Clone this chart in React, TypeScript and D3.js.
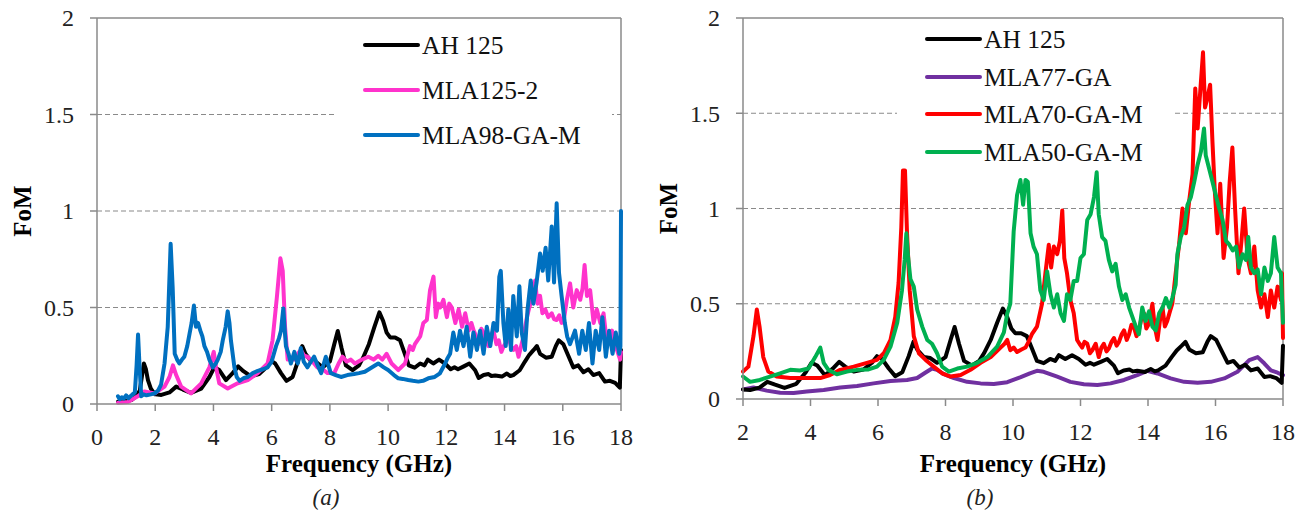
import React from "react";
import * as d3 from "d3";

type P = [number, number];

const ah125: P[] = [[0.72,0.012],[1.0,0.015],[1.18,0.02],[1.35,0.04],[1.47,0.07],[1.55,0.15],[1.61,0.21],[1.68,0.18],[1.75,0.124],[1.85,0.08],[1.92,0.064],[2.0,0.05],[2.21,0.047],[2.49,0.06],[2.72,0.09],[2.95,0.075],[3.23,0.058],[3.58,0.08],[3.86,0.14],[4.03,0.19],[4.2,0.176],[4.43,0.124],[4.66,0.16],[4.85,0.195],[5.03,0.17],[5.28,0.144],[5.57,0.155],[5.82,0.19],[5.97,0.225],[6.12,0.21],[6.32,0.16],[6.51,0.12],[6.72,0.14],[6.91,0.225],[7.05,0.3],[7.16,0.26],[7.36,0.22],[7.55,0.215],[7.75,0.19],[8.0,0.22],[8.15,0.31],[8.27,0.378],[8.4,0.29],[8.55,0.2],[8.78,0.176],[9.0,0.2],[9.14,0.24],[9.34,0.31],[9.53,0.4],[9.7,0.475],[9.83,0.43],[9.95,0.37],[10.07,0.345],[10.24,0.345],[10.41,0.33],[10.55,0.27],[10.71,0.2],[10.91,0.188],[11.1,0.21],[11.25,0.2],[11.36,0.23],[11.55,0.21],[11.75,0.23],[11.95,0.21],[12.15,0.18],[12.28,0.19],[12.4,0.18],[12.6,0.195],[12.79,0.21],[12.99,0.175],[13.11,0.135],[13.28,0.15],[13.45,0.155],[13.55,0.145],[13.68,0.148],[13.91,0.142],[14.08,0.158],[14.2,0.145],[14.3,0.15],[14.52,0.175],[14.7,0.22],[14.85,0.255],[15.0,0.28],[15.11,0.3],[15.22,0.26],[15.42,0.24],[15.62,0.245],[15.76,0.3],[15.86,0.33],[16.02,0.31],[16.19,0.25],[16.36,0.19],[16.53,0.2],[16.71,0.165],[16.88,0.18],[17.05,0.15],[17.25,0.16],[17.45,0.116],[17.62,0.12],[17.8,0.11],[17.96,0.085],[18.0,0.28]];

const mla125_2: P[] = [[0.72,0.007],[1.06,0.01],[1.4,0.04],[1.63,0.065],[1.98,0.055],[2.32,0.09],[2.49,0.14],[2.61,0.2],[2.72,0.15],[2.89,0.09],[3.23,0.055],[3.58,0.107],[3.86,0.19],[4.01,0.27],[4.09,0.19],[4.2,0.107],[4.49,0.08],[4.83,0.107],[5.18,0.124],[5.52,0.16],[5.86,0.21],[6.03,0.33],[6.18,0.555],[6.3,0.755],[6.38,0.69],[6.46,0.4],[6.55,0.23],[6.78,0.23],[6.9,0.26],[7.0,0.28],[7.12,0.25],[7.23,0.245],[7.4,0.22],[7.57,0.19],[7.75,0.18],[7.92,0.16],[8.15,0.16],[8.3,0.21],[8.43,0.245],[8.58,0.22],[8.72,0.23],[8.86,0.21],[9.1,0.23],[9.32,0.245],[9.5,0.23],[9.66,0.25],[9.8,0.23],[9.95,0.26],[10.12,0.21],[10.35,0.176],[10.58,0.21],[10.75,0.3],[10.85,0.28],[10.92,0.31],[11.1,0.35],[11.21,0.42],[11.33,0.435],[11.44,0.59],[11.56,0.66],[11.64,0.45],[11.72,0.52],[11.79,0.5],[11.9,0.54],[12.02,0.45],[12.1,0.52],[12.19,0.5],[12.31,0.42],[12.42,0.49],[12.54,0.4],[12.65,0.47],[12.77,0.38],[12.86,0.42],[12.94,0.38],[13.03,0.35],[13.11,0.31],[13.2,0.39],[13.28,0.37],[13.37,0.32],[13.45,0.3],[13.54,0.36],[13.62,0.38],[13.72,0.31],[13.8,0.33],[13.89,0.27],[13.97,0.3],[14.06,0.32],[14.14,0.35],[14.22,0.3],[14.31,0.28],[14.4,0.3],[14.48,0.245],[14.57,0.3],[14.65,0.35],[14.77,0.45],[14.85,0.5],[14.94,0.54],[15.05,0.64],[15.13,0.52],[15.22,0.56],[15.3,0.47],[15.4,0.49],[15.5,0.45],[15.62,0.47],[15.7,0.44],[15.79,0.435],[15.88,0.46],[15.96,0.42],[16.05,0.45],[16.14,0.54],[16.25,0.625],[16.36,0.5],[16.48,0.59],[16.6,0.54],[16.68,0.6],[16.75,0.72],[16.83,0.56],[16.94,0.59],[17.06,0.42],[17.17,0.49],[17.29,0.42],[17.4,0.47],[17.52,0.31],[17.6,0.36],[17.69,0.38],[17.78,0.3],[17.86,0.28],[17.97,0.23],[18.0,0.27]];

const mla98: P[] = [[0.72,0.04],[0.78,0.025],[0.85,0.035],[0.92,0.028],[1.0,0.045],[1.08,0.03],[1.15,0.04],[1.22,0.05],[1.3,0.06],[1.36,0.2],[1.41,0.36],[1.46,0.2],[1.52,0.04],[1.6,0.05],[1.7,0.045],[1.85,0.05],[1.98,0.055],[2.1,0.07],[2.2,0.1],[2.32,0.21],[2.43,0.4],[2.53,0.83],[2.6,0.6],[2.67,0.26],[2.75,0.23],[2.83,0.21],[2.92,0.23],[3.0,0.245],[3.1,0.3],[3.18,0.365],[3.25,0.42],[3.33,0.51],[3.4,0.4],[3.47,0.42],[3.55,0.38],[3.62,0.35],[3.69,0.3],[3.78,0.27],[3.86,0.23],[3.98,0.19],[4.08,0.21],[4.15,0.23],[4.25,0.27],[4.32,0.33],[4.42,0.4],[4.49,0.48],[4.55,0.42],[4.6,0.33],[4.72,0.19],[4.8,0.14],[4.9,0.12],[5.05,0.135],[5.18,0.14],[5.35,0.16],[5.5,0.17],[5.7,0.18],[5.86,0.19],[6.0,0.22],[6.15,0.3],[6.25,0.34],[6.32,0.38],[6.4,0.495],[6.45,0.38],[6.49,0.3],[6.58,0.26],[6.66,0.21],[6.78,0.27],[6.84,0.23],[6.9,0.21],[7.0,0.29],[7.1,0.22],[7.23,0.19],[7.35,0.22],[7.46,0.245],[7.58,0.2],[7.7,0.16],[7.86,0.245],[7.95,0.2],[8.03,0.16],[8.2,0.15],[8.38,0.14],[8.6,0.15],[8.83,0.155],[9.0,0.16],[9.2,0.167],[9.45,0.19],[9.66,0.21],[9.85,0.19],[10.0,0.176],[10.2,0.15],[10.35,0.133],[10.5,0.13],[10.69,0.124],[10.85,0.12],[11.04,0.116],[11.2,0.12],[11.38,0.133],[11.6,0.14],[11.78,0.159],[11.96,0.21],[12.05,0.24],[12.13,0.26],[12.24,0.37],[12.36,0.28],[12.47,0.38],[12.59,0.3],[12.7,0.4],[12.82,0.245],[12.93,0.37],[13.05,0.28],[13.16,0.38],[13.28,0.26],[13.39,0.4],[13.51,0.3],[13.62,0.42],[13.74,0.38],[13.82,0.66],[13.87,0.69],[13.96,0.42],[14.04,0.3],[14.13,0.49],[14.22,0.28],[14.3,0.56],[14.42,0.35],[14.51,0.61],[14.59,0.37],[14.7,0.28],[14.79,0.49],[14.9,0.64],[14.99,0.52],[15.1,0.63],[15.22,0.78],[15.31,0.69],[15.41,0.81],[15.5,0.64],[15.62,0.92],[15.7,0.63],[15.79,1.04],[15.87,0.68],[15.96,0.56],[16.07,0.42],[16.15,0.35],[16.25,0.31],[16.42,0.38],[16.56,0.26],[16.67,0.38],[16.79,0.28],[16.9,0.42],[17.02,0.21],[17.13,0.38],[17.25,0.28],[17.36,0.45],[17.48,0.245],[17.59,0.38],[17.71,0.26],[17.82,0.37],[17.94,0.26],[17.98,0.3],[18.0,1.0]];

const mla77: P[] = [[2.0,0.05],[2.31,0.06],[2.7,0.044],[3.1,0.033],[3.5,0.032],[3.89,0.039],[4.39,0.047],[4.88,0.06],[5.38,0.068],[5.87,0.082],[6.37,0.095],[6.86,0.1],[7.16,0.11],[7.41,0.139],[7.6,0.16],[7.75,0.153],[7.95,0.13],[8.25,0.11],[8.64,0.09],[9.04,0.082],[9.43,0.079],[9.83,0.088],[10.23,0.115],[10.5,0.135],[10.71,0.148],[10.91,0.143],[11.31,0.117],[11.7,0.09],[12.1,0.077],[12.5,0.073],[12.89,0.082],[13.29,0.1],[13.68,0.125],[13.98,0.148],[14.28,0.134],[14.67,0.108],[15.07,0.09],[15.47,0.085],[15.86,0.09],[16.26,0.108],[16.65,0.143],[16.85,0.178],[17.0,0.204],[17.25,0.22],[17.45,0.186],[17.64,0.15],[17.84,0.138],[18.0,0.125]];

const mla70: P[] = [[2.0,0.144],[2.16,0.17],[2.31,0.33],[2.41,0.47],[2.49,0.38],[2.6,0.22],[2.75,0.144],[3.0,0.118],[3.4,0.11],[3.89,0.11],[4.29,0.11],[4.58,0.126],[4.88,0.153],[5.28,0.17],[5.67,0.19],[5.97,0.205],[6.17,0.24],[6.37,0.31],[6.51,0.43],[6.61,0.61],[6.69,0.9],[6.74,1.2],[6.8,1.2],[6.86,0.87],[6.94,0.57],[7.06,0.33],[7.21,0.24],[7.41,0.205],[7.65,0.17],[7.9,0.135],[8.15,0.118],[8.45,0.126],[8.74,0.153],[9.04,0.19],[9.34,0.22],[9.63,0.27],[9.75,0.29],[9.83,0.31],[9.92,0.256],[10.02,0.27],[10.12,0.247],[10.25,0.26],[10.37,0.27],[10.46,0.3],[10.56,0.34],[10.71,0.38],[10.86,0.5],[10.96,0.66],[11.06,0.81],[11.13,0.69],[11.21,0.8],[11.31,0.76],[11.39,0.83],[11.46,0.99],[11.52,0.74],[11.6,0.66],[11.7,0.52],[11.8,0.45],[11.9,0.31],[11.97,0.29],[12.05,0.27],[12.12,0.3],[12.2,0.29],[12.28,0.24],[12.35,0.256],[12.45,0.29],[12.54,0.22],[12.62,0.27],[12.69,0.29],[12.77,0.25],[12.84,0.265],[12.92,0.3],[12.99,0.32],[13.07,0.28],[13.14,0.3],[13.22,0.34],[13.29,0.36],[13.37,0.31],[13.44,0.34],[13.51,0.39],[13.58,0.38],[13.66,0.33],[13.73,0.36],[13.8,0.42],[13.88,0.45],[13.95,0.37],[14.03,0.395],[14.13,0.5],[14.2,0.38],[14.28,0.31],[14.36,0.42],[14.43,0.48],[14.5,0.38],[14.57,0.41],[14.65,0.46],[14.72,0.5],[14.82,0.66],[14.92,0.81],[15.02,1.0],[15.12,0.87],[15.22,1.04],[15.32,1.18],[15.4,1.63],[15.47,1.42],[15.55,1.62],[15.63,1.82],[15.69,1.53],[15.76,1.58],[15.84,1.65],[15.91,1.35],[15.98,1.09],[16.06,0.87],[16.14,1.13],[16.24,0.74],[16.34,0.9],[16.42,1.14],[16.5,1.32],[16.58,1.0],[16.68,0.66],[16.77,0.83],[16.85,1.0],[16.95,0.74],[17.05,0.66],[17.15,0.8],[17.25,0.57],[17.35,0.48],[17.45,0.55],[17.55,0.43],[17.64,0.57],[17.74,0.48],[17.84,0.59],[17.94,0.52],[17.97,0.66],[18.0,0.32]];

const mla50: P[] = [[2.0,0.118],[2.21,0.09],[2.5,0.1],[2.8,0.118],[3.1,0.135],[3.4,0.153],[3.69,0.15],[3.94,0.16],[4.14,0.22],[4.29,0.27],[4.39,0.19],[4.53,0.153],[4.78,0.13],[5.08,0.144],[5.38,0.153],[5.72,0.155],[5.97,0.17],[6.17,0.205],[6.37,0.275],[6.57,0.4],[6.71,0.57],[6.79,0.73],[6.84,0.87],[6.89,0.75],[6.96,0.63],[7.06,0.59],[7.16,0.47],[7.31,0.38],[7.46,0.31],[7.6,0.29],[7.75,0.24],[7.9,0.17],[8.1,0.144],[8.35,0.16],[8.64,0.17],[8.94,0.19],[9.24,0.22],[9.53,0.275],[9.73,0.35],[9.83,0.45],[9.92,0.5],[10.02,0.88],[10.12,1.07],[10.22,1.15],[10.3,1.02],[10.37,1.15],[10.44,1.14],[10.52,0.87],[10.61,0.8],[10.71,0.76],[10.81,0.57],[10.91,0.52],[11.01,0.67],[11.11,0.55],[11.21,0.48],[11.31,0.55],[11.41,0.45],[11.51,0.41],[11.6,0.55],[11.7,0.52],[11.8,0.62],[11.9,0.62],[12.0,0.74],[12.1,0.76],[12.2,0.94],[12.3,0.97],[12.4,1.06],[12.48,1.19],[12.54,0.97],[12.64,0.85],[12.74,0.83],[12.84,0.73],[12.94,0.67],[13.04,0.71],[13.14,0.59],[13.24,0.52],[13.34,0.55],[13.44,0.48],[13.54,0.43],[13.64,0.38],[13.73,0.34],[13.83,0.48],[13.93,0.41],[14.03,0.46],[14.13,0.38],[14.23,0.36],[14.33,0.45],[14.43,0.48],[14.53,0.53],[14.63,0.48],[14.72,0.53],[14.82,0.6],[14.87,0.76],[14.97,0.85],[15.07,0.9],[15.17,1.02],[15.27,1.06],[15.37,1.14],[15.47,1.23],[15.57,1.3],[15.66,1.42],[15.71,1.28],[15.81,1.21],[15.91,1.14],[16.01,1.07],[16.11,1.0],[16.21,0.94],[16.31,0.83],[16.41,0.81],[16.51,0.78],[16.61,0.8],[16.7,0.69],[16.8,0.76],[16.9,0.73],[16.97,0.85],[17.05,0.69],[17.15,0.66],[17.25,0.68],[17.35,0.55],[17.45,0.69],[17.55,0.62],[17.64,0.66],[17.74,0.85],[17.84,0.69],[17.94,0.66],[18.0,0.4]];

const yTicks = [0, 0.5, 1, 1.5, 2];
const xTicksA = [0, 2, 4, 6, 8, 10, 12, 14, 16, 18];
const xTicksB = [2, 4, 6, 8, 10, 12, 14, 16, 18];

const seriesA = [
  { name: "AH 125", color: "#000000", data: ah125 },
  { name: "MLA125-2", color: "#FF33CC", data: mla125_2 },
  { name: "MLA98-GA-M", color: "#0070C0", data: mla98 },
];
const seriesB = [
  { name: "AH 125", color: "#000000", data: ah125.filter((d) => d[0] >= 2) },
  { name: "MLA77-GA", color: "#7030A0", data: mla77 },
  { name: "MLA70-GA-M", color: "#FF0000", data: mla70 },
  { name: "MLA50-GA-M", color: "#00B050", data: mla50 },
];
const drawOrderB = [1, 0, 2, 3];

const FONT = "'Liberation Serif', 'Times New Roman', serif";
const AXIS = "#8a8a8a";

type Series = { name: string; color: string; data: P[] };

function Panel(props: {
  x0: number; x1: number; y0: number; y1: number;
  xDomain: [number, number]; xTicks: number[];
  series: Series[]; order: number[];
  legend: { bx0: number; bx1: number; by0: number; by1: number; lx0: number; lx1: number; rows: number[] };
  caption: string; xLabelY: number;
}) {
  const { x0, x1, y0, y1, xDomain, xTicks, series, order, legend, caption, xLabelY } = props;
  const x = d3.scaleLinear().domain(xDomain).range([x0, x1]);
  const y = d3.scaleLinear().domain([0, 2]).range([y0, y1]);
  const line = d3.line<P>().x((d) => x(d[0])).y((d) => y(d[1]));
  const cx = (x0 + x1) / 2;
  const tf = { fontFamily: FONT };
  return (
    <g>
      {yTicks.filter((t) => t > 0 && t < 2).map((t) => (
        <line key={"g" + t} x1={x0} x2={x1} y1={y(t)} y2={y(t)} stroke={AXIS} strokeWidth={1.2} strokeDasharray="5,3" />
      ))}
      <rect x={legend.bx0} y={legend.by0} width={legend.bx1 - legend.bx0} height={legend.by1 - legend.by0} fill="#fff" />
      <line x1={x0} x2={x1} y1={y1} y2={y1} stroke={AXIS} strokeWidth={1.5} />
      <line x1={x1} x2={x1} y1={y1} y2={y0} stroke={AXIS} strokeWidth={1.5} />
      {order.map((i) => (
        <path key={series[i].name} d={line(series[i].data) || ""} fill="none" stroke={series[i].color} strokeWidth={4} strokeLinejoin="round" strokeLinecap="round" />
      ))}
      <line x1={x0} x2={x0} y1={y1} y2={y0} stroke={AXIS} strokeWidth={1.5} />
      <line x1={x0} x2={x1} y1={y0} y2={y0} stroke={AXIS} strokeWidth={1.5} />
      {yTicks.map((t) => (
        <g key={"y" + t}>
          <line x1={x0 - 7} x2={x0} y1={y(t)} y2={y(t)} stroke={AXIS} strokeWidth={1.5} />
          <text x={x0 - 23} y={y(t)} dy="0.35em" textAnchor="end" style={tf} fontSize={24} fill="#222">{t}</text>
        </g>
      ))}
      {xTicks.map((t) => (
        <g key={"x" + t}>
          <line x1={x(t)} x2={x(t)} y1={y0} y2={y0 + 7} stroke={AXIS} strokeWidth={1.5} />
          <text x={x(t)} y={xLabelY} dy="0.35em" textAnchor="middle" style={tf} fontSize={24} fill="#222">{t}</text>
        </g>
      ))}
      <text x={cx} y={463} dy="0.35em" textAnchor="middle" style={tf} fontSize={25} fontWeight="bold" fill="#000">Frequency (GHz)</text>
      <text transform={`translate(${x0 - 75},${(y0 + y1) / 2}) rotate(-90)`} dy="0.35em" textAnchor="middle" style={tf} fontSize={25} fontWeight="bold" fill="#000">FoM</text>
      <text x={cx - 33} y={497} dy="0.35em" textAnchor="middle" style={tf} fontSize={23} fontStyle="italic" fill="#222">{caption}</text>
      {series.map((s, i) => (
        <g key={"l" + s.name}>
          <line x1={legend.lx0} x2={legend.lx1} y1={legend.rows[i]} y2={legend.rows[i]} stroke={s.color} strokeWidth={4} strokeLinecap="round" />
          <text x={legend.lx1 + 4} y={legend.rows[i]} dy="0.35em" style={tf} fontSize={25.5} fill="#111">{s.name}</text>
        </g>
      ))}
    </g>
  );
}

export default function App() {
  return (
    <svg width={1309} height={515} style={{ display: "block", position: "absolute", left: 0, top: 0, background: "#fff" }}>
      <Panel x0={97} x1={621} y0={404} y1={18} xDomain={[0, 18]} xTicks={xTicksA} series={seriesA} order={[0, 1, 2]}
        legend={{ bx0: 335, bx1: 612, by0: 22, by1: 160, lx0: 365, lx1: 418, rows: [45, 90, 135] }} caption="(a)" xLabelY={437} />
      <Panel x0={743} x1={1283} y0={399} y1={18} xDomain={[2, 18]} xTicks={xTicksB} series={seriesB} order={drawOrderB}
        legend={{ bx0: 897, bx1: 1172, by0: 20, by1: 170, lx0: 927, lx1: 980, rows: [39, 77, 114, 152] }} caption="(b)" xLabelY={432} />
    </svg>
  );
}
